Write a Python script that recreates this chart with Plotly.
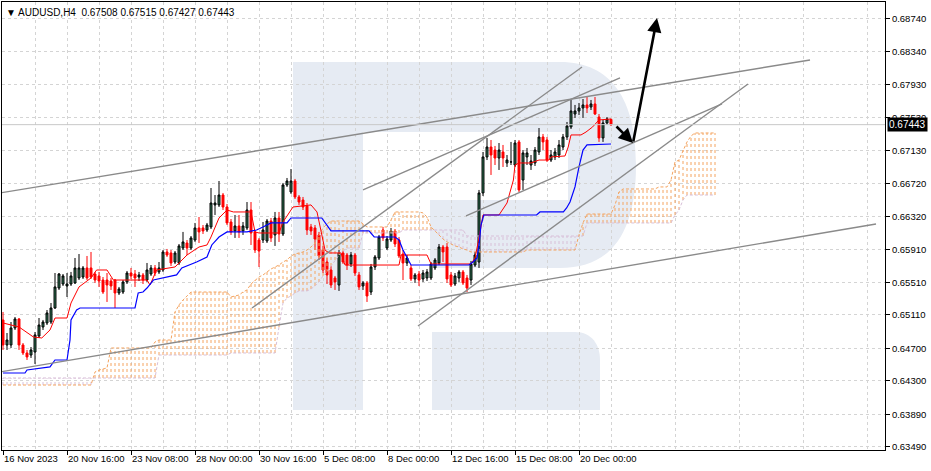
import plotly.graph_objects as go

# ---------------- data ----------------
TITLE = "▼ AUDUSD,H4  0.67508 0.67515 0.67427 0.67443"
LAST_PRICE = 0.67443

x_tick_idx = [0, 16, 32, 48, 64, 80, 96, 112, 128, 144]
x_tick_text = ["16 Nov 2023", "20 Nov 16:00", "23 Nov 08:00", "28 Nov 00:00", "30 Nov 16:00",
               "5 Dec 08:00", "8 Dec 00:00", "12 Dec 16:00", "15 Dec 08:00", "20 Dec 00:00"]
y_ticks = [0.68740, 0.68340, 0.67930, 0.67530, 0.67130, 0.66720, 0.66320,
           0.65910, 0.65510, 0.65110, 0.64700, 0.64300, 0.63890, 0.63490]

opens = [
0.65047,0.64740,0.64740,0.64949,0.65059,0.64740,0.64642,0.64617,0.64654,0.64850,
0.64961,0.65010,0.65022,0.65194,0.65439,0.65488,0.65464,0.65488,0.65501,0.65562,
0.65574,0.65685,0.65685,0.65611,0.65587,0.65537,0.65537,0.65525,0.65537,0.65378,
0.65390,0.65513,0.65623,0.65611,0.65574,0.65599,0.65537,0.65611,0.65685,0.65636,
0.65660,0.65881,0.65869,0.65758,0.65746,0.65930,0.65991,0.65930,0.66028,0.66176,
0.66176,0.66151,0.66188,0.66458,0.66458,0.66580,0.66433,0.66249,0.66139,0.66200,
0.66139,0.66176,0.66396,0.66127,0.66028,0.66028,0.66016,0.66261,0.66090,0.66298,
0.66102,0.66703,0.66617,0.66752,0.66556,0.66519,0.66445,0.66188,0.66176,0.66090,
0.65905,0.65758,0.65660,0.65562,0.65476,0.65869,0.65844,0.65734,0.65844,0.65599,
0.65464,0.65501,0.65390,0.65697,0.65807,0.66151,0.65930,0.66028,0.66139,0.66028,
0.65856,0.65746,0.65685,0.65550,0.65611,0.65550,0.65562,0.65562,0.65685,0.65746,
0.65942,0.65942,0.65599,0.65488,0.65562,0.65636,0.65562,0.65537,0.65721,0.65758,
0.66605,0.67047,0.67169,0.67132,0.67034,0.67108,0.66973,0.66985,0.66948,0.67231,
0.66764,0.67047,0.66948,0.66973,0.67108,0.67292,0.67255,0.67009,0.67047,0.67071,
0.67169,0.67292,0.67415,0.67574,0.67611,0.67648,0.67685,0.67660,0.67697,0.67537,
0.67280,0.67464,0.67508]
highs = [
0.65145,0.64887,0.65022,0.65083,0.65071,0.64764,0.64679,0.64715,0.64899,0.65071,
0.65047,0.65169,0.65255,0.65623,0.65623,0.65611,0.65623,0.65636,0.65807,0.65856,
0.65709,0.65832,0.65881,0.65636,0.65636,0.65574,0.65623,0.65562,0.65550,0.65452,
0.65537,0.65648,0.65685,0.65660,0.65636,0.65623,0.65746,0.65721,0.65721,0.65758,
0.65905,0.65918,0.65905,0.65893,0.65979,0.66127,0.66028,0.66077,0.66237,0.66310,
0.66212,0.66237,0.66666,0.66580,0.66752,0.66605,0.66470,0.66286,0.66335,0.66335,
0.66249,0.66494,0.66494,0.66151,0.66053,0.66249,0.66286,0.66298,0.66372,0.66372,
0.66728,0.66789,0.66899,0.66777,0.66580,0.66556,0.66482,0.66225,0.66212,0.66127,
0.65955,0.65807,0.65709,0.65587,0.65905,0.65893,0.65869,0.65881,0.65869,0.65636,
0.65525,0.65525,0.65734,0.65844,0.66090,0.66188,0.66077,0.66176,0.66163,0.66065,
0.65905,0.65844,0.65721,0.65623,0.65648,0.65660,0.65672,0.65758,0.65807,0.65979,
0.65967,0.65991,0.65636,0.65623,0.65660,0.65660,0.65599,0.65770,0.65881,0.66642,
0.67108,0.67280,0.67255,0.67182,0.67218,0.67194,0.67071,0.67231,0.67255,0.67255,
0.67132,0.67157,0.67071,0.67169,0.67402,0.67329,0.67292,0.67132,0.67157,0.67255,
0.67329,0.67476,0.67746,0.67685,0.67709,0.67758,0.67783,0.67746,0.67783,0.67574,
0.67501,0.67537,0.67515]
lows = [
0.64679,0.64679,0.64703,0.64924,0.64679,0.64617,0.64556,0.64581,0.64507,0.64826,
0.64924,0.64985,0.64998,0.65182,0.65415,0.65464,0.65329,0.65464,0.65488,0.65537,
0.65550,0.65537,0.65550,0.65501,0.65452,0.65366,0.65268,0.65415,0.65194,0.65353,
0.65366,0.65488,0.65550,0.65452,0.65525,0.65488,0.65513,0.65587,0.65587,0.65611,
0.65636,0.65820,0.65709,0.65734,0.65721,0.65905,0.65844,0.65905,0.66004,0.65991,
0.66102,0.66127,0.66163,0.66335,0.66433,0.66396,0.66212,0.66090,0.66053,0.66053,
0.66090,0.66151,0.65967,0.65869,0.65697,0.65991,0.65991,0.66004,0.65955,0.66004,
0.66077,0.66679,0.66593,0.66531,0.66458,0.66396,0.66090,0.66090,0.65905,0.65783,
0.65623,0.65488,0.65439,0.65415,0.65403,0.65734,0.65660,0.65697,0.65587,0.65415,
0.65415,0.65268,0.65353,0.65660,0.65783,0.66016,0.65905,0.66004,0.65942,0.65807,
0.65537,0.65709,0.65525,0.65501,0.65464,0.65513,0.65525,0.65537,0.65660,0.65721,
0.65758,0.65501,0.65452,0.65464,0.65513,0.65476,0.65390,0.65476,0.65697,0.65685,
0.66568,0.67009,0.66826,0.66948,0.66887,0.66924,0.66924,0.66948,0.66924,0.66617,
0.66642,0.66948,0.66887,0.66936,0.67071,0.67132,0.66985,0.66985,0.67009,0.67034,
0.67132,0.67255,0.67390,0.67525,0.67562,0.67525,0.67586,0.67623,0.67562,0.67231,
0.67231,0.67439,0.67427]
closes = [
0.64740,0.64801,0.64949,0.65059,0.64740,0.64642,0.64593,0.64679,0.64863,0.64985,
0.65022,0.65133,0.65194,0.65452,0.65611,0.65587,0.65488,0.65587,0.65685,0.65685,
0.65685,0.65562,0.65574,0.65537,0.65525,0.65390,0.65476,0.65464,0.65378,0.65427,
0.65513,0.65623,0.65587,0.65562,0.65599,0.65537,0.65660,0.65685,0.65623,0.65685,
0.65881,0.65844,0.65746,0.65869,0.65955,0.66004,0.65930,0.66053,0.66176,0.66127,
0.66139,0.66212,0.66482,0.66482,0.66580,0.66433,0.66237,0.66127,0.66200,0.66127,
0.66200,0.66396,0.66114,0.65905,0.65893,0.66151,0.66261,0.66053,0.66298,0.66102,
0.66703,0.66752,0.66752,0.66556,0.66494,0.66433,0.66151,0.66139,0.66040,0.65832,
0.65660,0.65599,0.65476,0.65513,0.65869,0.65758,0.65721,0.65844,0.65623,0.65452,
0.65501,0.65341,0.65697,0.65820,0.66065,0.66053,0.66040,0.66139,0.65979,0.65832,
0.65746,0.65807,0.65550,0.65599,0.65537,0.65623,0.65636,0.65734,0.65783,0.65942,
0.65881,0.65550,0.65476,0.65587,0.65636,0.65501,0.65439,0.65734,0.65844,0.66605,
0.67047,0.67169,0.67071,0.67034,0.67132,0.67034,0.67009,0.66986,0.67218,0.66642,
0.67096,0.67096,0.66997,0.67132,0.67292,0.67231,0.67009,0.67071,0.67108,0.67194,
0.67292,0.67427,0.67611,0.67611,0.67648,0.67685,0.67648,0.67697,0.67574,0.67280,
0.67464,0.67513,0.67443]

# Ichimoku lines: (bar index, price)
tenkan_pts = [(0,0.65010),(4,0.64961),(7.6,0.64838),(9.7,0.64826),(11.75,0.64924),(13,0.65071),
 (16,0.65071),(17,0.65255),(19,0.65452),(22,0.65562),(23.4,0.65660),(26,0.65660),(27.6,0.65537),
 (36,0.65537),(36.75,0.65476),(38.4,0.65660),(43,0.65697),(46,0.65844),(49,0.65942),(51,0.65967),
 (52,0.66065),(54,0.66298),(56,0.66396),(57.6,0.66372),(62,0.66372),(63,0.66127),(64,0.66114),
 (69,0.66114),(70,0.66249),(72.5,0.66433),(77,0.66458),(78.5,0.66372),(80.5,0.65905),(81.5,0.65869),
 (84.5,0.65869),(85.5,0.65721),(99,0.65721),(99.5,0.65844),(106,0.65844),(107,0.65734),(117,0.65734),
 (118,0.65807),(119,0.66053),(120,0.66335),(124,0.66335),(126,0.66482),(127.6,0.66764),(128,0.66948),
 (129,0.66973),(132,0.66973),(134,0.67009),(136.5,0.67009),(137,0.67047),(140.5,0.67059),
 (141.3,0.67169),(142,0.67317),(144.5,0.67317),(145.75,0.67353),(147.4,0.67415),(149,0.67501),
 (152,0.67513)]
kijun_pts = [(0,0.64396),(5.5,0.64396),(6,0.64433),(11.75,0.64471),(13,0.64556),(16,0.64556),
 (16.75,0.64801),(17,0.65047),(18.4,0.65169),(19.25,0.65194),(33,0.65194),(33.8,0.65378),(35,0.65390),
 (36,0.65439),(37.6,0.65537),(40,0.65562),(43.4,0.65599),(44.7,0.65685),(48.4,0.65758),(51,0.65820),
 (52.2,0.65967),(54,0.66065),(56,0.66127),(61,0.66127),(63.4,0.66151),(65,0.66188),(67,0.66237),
 (71,0.66237),(72,0.66298),(79.7,0.66298),(81.3,0.66176),(82,0.66139),(91.5,0.66139),(92.8,0.66065),
 (98,0.66065),(99,0.66028),(100,0.65905),(101,0.65807),(102,0.65721),(116.5,0.65721),(117.5,0.65758),
 (118.5,0.65807),(119,0.65967),(119.5,0.66212),(120.2,0.66335),(133.4,0.66335),(134.25,0.66372),
 (140.1,0.66372),(140.9,0.66421),(141.75,0.66494),(143,0.66679),(144,0.66924),(145,0.67132),
 (146,0.67194),(152,0.67206)]

# Senkou spans, one value per bar (extend 26 bars beyond the last candle)
span_a = ([0.64249]*23 + [0.64409,0.64433,0.64445,0.64458] + [0.64703]*11 + [0.64777] + [0.64801]*4 +
          [0.65145,0.65231,0.65292,0.65341] + [0.65390]*10 +
          [0.65329,0.65341,0.65353,0.65390,0.65415,0.65488,0.65537,0.65574,0.65599,0.65636,0.65672,
           0.65697,0.65721,0.65758,0.65783,0.65832,0.65856,0.65869,0.65881,0.65905,0.65942,0.65991,
           0.66090,0.66176,0.66225] +
          [0.66261]*8 + [0.66225] + [0.66188]*6 + [0.66273] + [0.66372]*7 +
          [0.66360,0.66310,0.66188,0.66139,0.66090,0.66040,0.66004,0.65979,0.65955,0.65942,0.65918,0.65905] +
          [0.65881]*14 + [0.65905]*13 + [0.66090,0.66237] + [0.66347]*7 + [0.66458,0.66617] +
          [0.66654]*9 + [0.66679]*3 + [0.66764,0.66985,0.67009,0.67132,0.67231,0.67304] + [0.67341]*6)
span_b = ([0.64335]*39 + [0.64617]*18 + [0.64642]*12 +
          [0.64961,0.65255,0.65317,0.65341,0.65378] + [0.65403]*3 +
          [0.65427,0.65464,0.65513,0.65587,0.65636,0.65709,0.65783,0.65844,0.65893] +
          [0.65930]*4 + [0.66114]*10 + [0.66151]*16 + [0.66077]*30 + [0.66237]*22 +
          [0.66335,0.66396,0.66519] + [0.66580]*8)

# drawn trend lines: ((bar index, price), (bar index, price))
trend_lines = [((-0.75,0.66605),(201.75,0.68237)),
               ((-0.75,0.64409),(218.25,0.66225)),
               ((62.25,0.65194),(144.75,0.68151)),
               ((90.0,0.66642),(154.25,0.68016)),
               ((115.75,0.66323),(179.75,0.67697)),
               ((103.75,0.64973),(186.25,0.67942))]
# arrows: (from, to)
arrows = [((153.0,0.67439),(157.5,0.67218)),
          ((157.5,0.67218),(163.5,0.68752))]

# ---------------- figure ----------------
W, H = 931, 471
PL, PR, PT, PB = 2, 885, 2, 450
Y_RANGE = [0.634515, 0.68948]
X_RANGE = [-0.25, 220.5]

def P(x, y):
    return f"{(x-PL)/(PR-PL):.5f},{(PB-y)/(PB-PT):.5f}"

fig = go.Figure()

idx = list(range(len(opens)))
n_cloud = len(span_a)

# cloud hatching
xo, yo, xt, yt = [], [], [], []
for i in range(n_cloud):
    a, b = span_a[i], span_b[i]
    if a >= b:
        xo += [i, i, None]; yo += [b, a, None]
    else:
        xt += [i, i, None]; yt += [a, b, None]
fig.add_trace(go.Scatter(x=xo, y=yo, mode="lines", line=dict(color="#f4a460", width=1, dash="3px,3px"),
                         hoverinfo="skip", showlegend=False))
fig.add_trace(go.Scatter(x=xt, y=yt, mode="lines", line=dict(color="#d8bfd8", width=1, dash="3px,3px"),
                         hoverinfo="skip", showlegend=False))
fig.add_trace(go.Scatter(x=list(range(n_cloud)), y=span_a, mode="lines",
                         line=dict(color="#f4a460", width=1, dash="3px,2px"), showlegend=False))
fig.add_trace(go.Scatter(x=list(range(n_cloud)), y=span_b, mode="lines",
                         line=dict(color="#d8bfd8", width=1, dash="3px,2px"), showlegend=False))

# candles
fig.add_trace(go.Candlestick(
    x=idx, open=opens, high=highs, low=lows, close=closes,
    increasing=dict(line=dict(color="#000000", width=1), fillcolor="#2f7d5a"),
    decreasing=dict(line=dict(color="#ff0000", width=1), fillcolor="#ff0000"),
    whiskerwidth=0, showlegend=False))

# tenkan / kijun
fig.add_trace(go.Scatter(x=[p[0] for p in tenkan_pts], y=[p[1] for p in tenkan_pts], mode="lines",
                         line=dict(color="#ff0000", width=1), showlegend=False))
fig.add_trace(go.Scatter(x=[p[0] for p in kijun_pts], y=[p[1] for p in kijun_pts], mode="lines",
                         line=dict(color="#0000ff", width=1.2), showlegend=False))

# trend lines
tx, ty = [], []
for (a, b) in trend_lines:
    tx += [a[0], b[0], None]; ty += [a[1], b[1], None]
fig.add_trace(go.Scatter(x=tx, y=ty, mode="lines", line=dict(color="#8a8a8a", width=1.4),
                         hoverinfo="skip", showlegend=False))

annotations = []
for (a, b) in arrows:
    annotations.append(dict(x=b[0], y=b[1], ax=a[0], ay=a[1], xref="x", yref="y", axref="x", ayref="y",
                            text="", showarrow=True, arrowhead=2, arrowsize=1.1, arrowwidth=2.6,
                            arrowcolor="#000000", standoff=0, startstandoff=0))

annotations.append(dict(xref="paper", yref="paper", x=(4-PL)/(PR-PL), y=1-(3/(PB-PT)),
                        xanchor="left", yanchor="top", text=TITLE, showarrow=False,
                        font=dict(family="Liberation Sans", size=10, color="#000000")))
annotations.append(dict(xref="paper", yref="y", x=1, y=LAST_PRICE, xanchor="left", yanchor="middle",
                        xshift=2, text=f"{LAST_PRICE:.5f}", showarrow=False, bgcolor="#000000",
                        borderpad=1, font=dict(family="Liberation Sans", size=10, color="#ffffff")))

wm = "#e6ebf3"
shapes = [
    dict(type="path", xref="paper", yref="paper", layer="below", fillcolor=wm, line=dict(width=0),
         path=("M" + P(293,62) + " L" + P(560,62) + " C" + P(612,62) + " " + P(636,100) + " " + P(636,165) +
               " C" + P(636,232) + " " + P(612,268) + " " + P(560,268) + " L" + P(430,268) + " L" + P(430,200) +
               " L" + P(568,200) + " L" + P(568,132) + " L" + P(363,132) + " L" + P(363,410) +
               " L" + P(293,410) + " Z")),
    dict(type="path", xref="paper", yref="paper", layer="below", fillcolor=wm, line=dict(width=0),
         path=("M" + P(432,332) + " L" + P(575,332) + " C" + P(592,332) + " " + P(600,345) + " " + P(600,360) +
               " L" + P(600,410) + " L" + P(432,410) + " Z")),
    dict(type="line", xref="paper", yref="y", x0=0, x1=1, y0=LAST_PRICE, y1=LAST_PRICE,
         line=dict(color="#c8c8c8", width=1)),
]

grid = dict(showgrid=True, gridcolor="#d4d4d4", gridwidth=1, griddash="3px,3px")
tick_font = dict(family="Liberation Sans", size=9.5, color="#000000")

fig.update_layout(
    width=W, height=H,
    margin=dict(l=PL, r=W-PR, t=PT, b=H-PB, pad=0, autoexpand=False),
    paper_bgcolor="#ffffff", plot_bgcolor="#ffffff",
    showlegend=False, annotations=annotations, shapes=shapes,
    xaxis=dict(range=X_RANGE, tickvals=x_tick_idx, ticktext=x_tick_text, ticks="outside", ticklen=4,
               tickcolor="#000000", ticklabelposition="outside right", tickfont=tick_font,
               tickangle=0, automargin=False,
               showline=True, linecolor="#000000", linewidth=1, mirror=True, zeroline=False,
               rangeslider=dict(visible=False),
               minor=dict(tickvals=list(range(8, 221, 16)), showgrid=True, gridcolor="#d4d4d4",
                          griddash="3px,3px", ticks=""),
               **grid),
    yaxis=dict(range=Y_RANGE, side="right", tickvals=y_ticks, ticktext=[f"{v:.5f}" for v in y_ticks],
               ticks="outside", ticklen=4, tickcolor="#000000", tickfont=tick_font, automargin=False,
               showline=True, linecolor="#000000", linewidth=1, mirror=True, zeroline=False, **grid),
)

fig.write_html("out.html", config={"displayModeBar": False},
               post_script="document.body.style.margin='0';document.body.style.overflow='hidden';")
